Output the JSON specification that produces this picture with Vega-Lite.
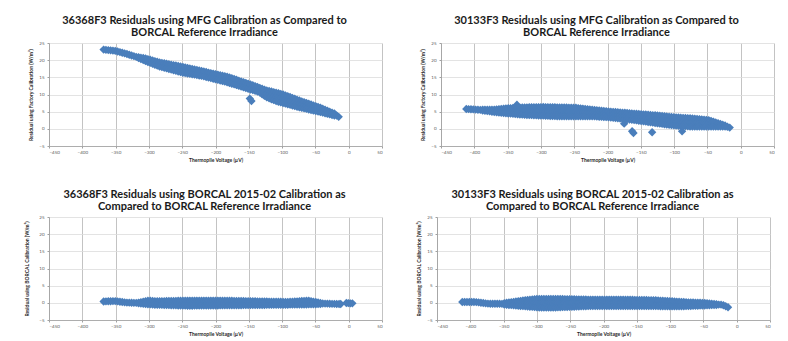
{
"$schema": "https://vega.github.io/schema/vega-lite/v6.json",
"padding": {"left": 24, "top": 15, "right": 0, "bottom": 0},
"background": "white",
"config": {
 "font": "Lato",
 "view": {"stroke": null},
 "title": {"font": "Lato", "fontSize": 11, "fontWeight": "bold", "color": "#1a1a1a", "lineHeight": 12, "offset": 2, "dx": -11, "anchor": "middle"},
 "axis": {"labelFont": "Lato", "labelFontSize": 4.5, "labelColor": "#595959", "titleFont": "Lato", "titleFontSize": 5, "titleFontWeight": "bold", "titleColor": "#262626", "domainColor": "#a0a0a0", "domainWidth": 0.8, "tickColor": "#a0a0a0", "tickSize": 2, "gridWidth": 0.8},
 "axisX": {"gridColor": "#b4b4b4", "labelPadding": 1, "titlePadding": 4},
 "axisY": {"gridColor": "#dcdcdc", "labelPadding": 3, "titlePadding": 5},
 "point": {"shape": "diamond", "filled": true, "size": 70, "color": "#4a7ebb", "opacity": 1}
},
"datasets": {
 "p1": [
{"v":-368,"r":23.08},{"v":-364.5,"r":23.0},{"v":-361,"r":22.93},{"v":-357.5,"r":22.86},{"v":-354,"r":22.78},{"v":-350.5,"r":22.71},{"v":-347,"r":22.54},{"v":-343.5,"r":22.35},{"v":-340,"r":22.17},{"v":-336.5,"r":21.98},{"v":-333,"r":21.79},{"v":-329.5,"r":21.58},{"v":-326,"r":21.37},{"v":-322.5,"r":21.16},{"v":-319,"r":20.95},
{"v":-315.5,"r":20.87},{"v":-315.5,"r":20.61},{"v":-312,"r":20.74},{"v":-312,"r":20.32},{"v":-308.5,"r":20.62},{"v":-308.5,"r":20.02},{"v":-305,"r":20.49},{"v":-305,"r":19.73},{"v":-301.5,"r":20.31},{"v":-301.5,"r":19.46},{"v":-298,"r":20.12},{"v":-298,"r":19.2},{"v":-294.5,"r":19.93},{"v":-294.5,"r":18.94},{"v":-291,"r":19.74},{"v":-291,"r":18.68},{"v":-287.5,"r":19.54},{"v":-287.5,"r":18.41},{"v":-284,"r":19.35},{"v":-284,"r":18.15},{"v":-280.5,"r":19.22},{"v":-280.5,"r":17.97},{"v":-277,"r":19.09},{"v":-277,"r":17.79},{"v":-273.5,"r":18.96},{"v":-273.5,"r":17.61},{"v":-270,"r":18.83},{"v":-270,"r":17.43},{"v":-266.5,"r":18.7},{"v":-266.5,"r":17.25},{"v":-263,"r":18.57},{"v":-263,"r":17.07},{"v":-259.5,"r":18.44},{"v":-259.5,"r":16.89},{"v":-256,"r":18.31},{"v":-256,"r":16.71},{"v":-252.5,"r":18.18},{"v":-252.5,"r":16.53},{"v":-249,"r":18.05},{"v":-249,"r":16.35},{"v":-245.5,"r":17.9},{"v":-245.5,"r":16.23},{"v":-242,"r":17.75},{"v":-242,"r":16.12},{"v":-238.5,"r":17.6},{"v":-238.5,"r":16.0},{"v":-235,"r":17.44},{"v":-235,"r":15.88},{"v":-231.5,"r":17.29},{"v":-231.5,"r":15.77},{"v":-228,"r":17.14},{"v":-228,"r":15.65},{"v":-224.5,"r":16.99},{"v":-224.5,"r":15.53},{"v":-221,"r":16.84},{"v":-221,"r":15.42},{"v":-217.5,"r":16.69},{"v":-217.5,"r":15.28},{"v":-214,"r":16.54},{"v":-214,"r":15.11},{"v":-210.5,"r":16.39},{"v":-210.5,"r":14.94},{"v":-207,"r":16.24},{"v":-207,"r":14.77},{"v":-203.5,"r":16.09},{"v":-203.5,"r":14.6},{"v":-200,"r":15.94},{"v":-200,"r":14.43},{"v":-196.5,"r":15.79},{"v":-196.5,"r":14.26},{"v":-193,"r":15.64},{"v":-193,"r":14.09},{"v":-189.5,"r":15.49},{"v":-189.5,"r":13.92},{"v":-186,"r":15.34},{"v":-186,"r":13.75},{"v":-182.5,"r":15.16},{"v":-182.5,"r":13.56},{"v":-179,"r":14.94},{"v":-179,"r":13.35},{"v":-175.5,"r":14.72},{"v":-175.5,"r":13.14},{"v":-172,"r":14.5},{"v":-172,"r":12.93},{"v":-168.5,"r":14.28},{"v":-168.5,"r":12.72},{"v":-165,"r":14.06},{"v":-165,"r":12.51},{"v":-161.5,"r":13.84},{"v":-161.5,"r":12.3},{"v":-158,"r":13.62},{"v":-158,"r":12.09},{"v":-154.5,"r":13.4},{"v":-154.5,"r":11.88},{"v":-151,"r":13.18},{"v":-151,"r":11.67},{"v":-148.5,"r":8.8},{"v":-147.5,"r":12.94},{"v":-147.5,"r":11.46},{"v":-146,"r":8.1},{"v":-144,"r":12.69},{"v":-144,"r":11.26},{"v":-140.5,"r":12.44},{"v":-140.5,"r":11.06},{"v":-137,"r":12.19},{"v":-137,"r":10.86},{"v":-133.5,"r":11.93},{"v":-133.5,"r":10.55},{"v":-130,"r":11.68},{"v":-130,"r":10.07},
{"v":-126.5,"r":11.43},{"v":-126.5,"r":10.5},{"v":-126.5,"r":9.59},{"v":-123,"r":11.2},{"v":-123,"r":10.2},{"v":-123,"r":9.17},{"v":-119.5,"r":11.03},{"v":-119.5,"r":9.95},{"v":-119.5,"r":8.9},{"v":-116,"r":10.86},{"v":-116,"r":9.75},{"v":-116,"r":8.62},{"v":-112.5,"r":10.7},{"v":-112.5,"r":9.5},{"v":-112.5,"r":8.35},{"v":-109,"r":10.5},{"v":-109,"r":9.3},{"v":-109,"r":8.1},{"v":-105.5,"r":10.36},{"v":-105.5,"r":9.1},{"v":-105.5,"r":7.9},{"v":-102,"r":10.2},{"v":-102,"r":8.95},{"v":-102,"r":7.7},{"v":-98.5,"r":10.0},{"v":-98.5,"r":8.75},{"v":-98.5,"r":7.52},{"v":-95,"r":9.76},{"v":-95,"r":8.55},{"v":-95,"r":7.34},{"v":-91.5,"r":9.5},{"v":-91.5,"r":8.35},{"v":-91.5,"r":7.16},{"v":-88,"r":9.26},{"v":-88,"r":8.1},{"v":-88,"r":6.98},{"v":-84.5,"r":9.0},{"v":-84.5,"r":7.9},{"v":-84.5,"r":6.8},{"v":-81,"r":8.75},{"v":-81,"r":7.7},{"v":-81,"r":6.61},{"v":-77.5,"r":8.5},{"v":-77.5,"r":7.45},{"v":-77.5,"r":6.43},{"v":-74,"r":8.25},{"v":-74,"r":7.25},{"v":-74,"r":6.25},{"v":-70.5,"r":8.0},{"v":-70.5,"r":7.05},{"v":-70.5,"r":6.1},{"v":-67,"r":7.78},{"v":-67,"r":6.85},{"v":-67,"r":5.95},{"v":-63.5,"r":7.55},{"v":-63.5,"r":6.65},{"v":-63.5,"r":5.8},
{"v":-60,"r":7.32},{"v":-60,"r":5.64},{"v":-56.5,"r":7.08},{"v":-56.5,"r":5.49},{"v":-53,"r":6.85},{"v":-53,"r":5.34},{"v":-49.5,"r":6.62},{"v":-49.5,"r":5.19},{"v":-46,"r":6.38},{"v":-46,"r":5.04},{"v":-42.5,"r":6.13},{"v":-42.5,"r":4.88},{"v":-39,"r":5.85},{"v":-39,"r":4.71},{"v":-35.5,"r":5.57},{"v":-35.5,"r":4.54},{"v":-32,"r":5.29},{"v":-32,"r":4.37},{"v":-28.5,"r":5.01},{"v":-28.5,"r":4.21},{"v":-25,"r":4.73},{"v":-25,"r":4.04},{"v":-21.5,"r":4.45},{"v":-21.5,"r":3.87},{"v":-18,"r":3.88},{"v":-15,"r":3.5}
 ],
 "p2": [
{"v":-412,"r":5.78},{"v":-408.5,"r":5.73},{"v":-405,"r":5.7},{"v":-401.5,"r":5.66},{"v":-398,"r":5.6},{"v":-394.5,"r":5.57},{"v":-391,"r":5.52},
{"v":-387.5,"r":5.6},{"v":-387.5,"r":5.35},{"v":-384,"r":5.55},{"v":-384,"r":5.28},{"v":-380.5,"r":5.55},{"v":-380.5,"r":5.18},{"v":-377,"r":5.55},{"v":-377,"r":5.07},{"v":-373.5,"r":5.55},{"v":-373.5,"r":4.97},{"v":-370,"r":5.61},{"v":-370,"r":4.89},{"v":-366.5,"r":5.68},{"v":-366.5,"r":4.82},{"v":-363,"r":5.75},{"v":-363,"r":4.75},{"v":-359.5,"r":5.82},{"v":-359.5,"r":4.68},{"v":-356,"r":5.89},{"v":-356,"r":4.61},{"v":-352.5,"r":5.96},{"v":-352.5,"r":4.54},{"v":-349,"r":5.99},{"v":-349,"r":4.48},{"v":-345.5,"r":6.02},{"v":-345.5,"r":4.42},{"v":-342,"r":6.06},{"v":-342,"r":4.37},
{"v":-338.5,"r":6.09},{"v":-338.5,"r":5.2},{"v":-338.5,"r":4.31},{"v":-336,"r":7.0},{"v":-335,"r":6.13},{"v":-335,"r":5.19},{"v":-335,"r":4.25},{"v":-331.5,"r":6.16},{"v":-331.5,"r":5.18},{"v":-331.5,"r":4.19},{"v":-328,"r":6.2},{"v":-328,"r":5.16},{"v":-328,"r":4.13},{"v":-324.5,"r":6.23},{"v":-324.5,"r":5.15},{"v":-324.5,"r":4.08},{"v":-321,"r":6.26},{"v":-321,"r":5.14},{"v":-321,"r":4.03},{"v":-317.5,"r":6.27},{"v":-317.5,"r":5.13},{"v":-317.5,"r":4.0},{"v":-314,"r":6.29},{"v":-314,"r":5.13},{"v":-314,"r":3.98},{"v":-310.5,"r":6.3},{"v":-310.5,"r":5.12},{"v":-310.5,"r":3.95},{"v":-307,"r":6.31},{"v":-307,"r":5.11},{"v":-307,"r":3.92},{"v":-303.5,"r":6.33},{"v":-303.5,"r":5.11},{"v":-303.5,"r":3.89},{"v":-300,"r":6.34},{"v":-300,"r":5.1},{"v":-300,"r":3.87},{"v":-296.5,"r":6.35},{"v":-296.5,"r":5.1},{"v":-296.5,"r":3.84},{"v":-293,"r":6.33},{"v":-293,"r":5.07},{"v":-293,"r":3.81},{"v":-289.5,"r":6.32},{"v":-289.5,"r":5.05},{"v":-289.5,"r":3.78},{"v":-286,"r":6.3},{"v":-286,"r":5.02},{"v":-286,"r":3.75},{"v":-282.5,"r":6.29},{"v":-282.5,"r":5.01},{"v":-282.5,"r":3.73},{"v":-279,"r":6.27},{"v":-279,"r":4.98},{"v":-279,"r":3.7},{"v":-275.5,"r":6.26},{"v":-275.5,"r":4.96},{"v":-275.5,"r":3.67},{"v":-272,"r":6.25},{"v":-272,"r":4.95},{"v":-272,"r":3.65},{"v":-268.5,"r":6.23},{"v":-268.5,"r":4.94},{"v":-268.5,"r":3.65},{"v":-265,"r":6.22},{"v":-265,"r":4.93},{"v":-265,"r":3.65},{"v":-261.5,"r":6.2},{"v":-261.5,"r":4.92},{"v":-261.5,"r":3.65},{"v":-258,"r":6.19},{"v":-258,"r":4.92},{"v":-258,"r":3.65},{"v":-254.5,"r":6.18},{"v":-254.5,"r":4.91},{"v":-254.5,"r":3.65},{"v":-251,"r":6.16},{"v":-251,"r":4.9},{"v":-251,"r":3.65},{"v":-247.5,"r":6.14},{"v":-247.5,"r":4.9},{"v":-247.5,"r":3.65},{"v":-244,"r":6.05},{"v":-244,"r":4.85},{"v":-244,"r":3.65},{"v":-240.5,"r":5.97},{"v":-240.5,"r":4.81},{"v":-240.5,"r":3.65},{"v":-237,"r":5.89},{"v":-237,"r":4.77},{"v":-237,"r":3.65},{"v":-233.5,"r":5.8},{"v":-233.5,"r":4.72},{"v":-233.5,"r":3.65},{"v":-230,"r":5.72},{"v":-230,"r":4.68},{"v":-230,"r":3.65},{"v":-226.5,"r":5.63},{"v":-226.5,"r":4.64},{"v":-226.5,"r":3.65},{"v":-223,"r":5.55},{"v":-223,"r":4.6},{"v":-223,"r":3.65},{"v":-219.5,"r":5.48},{"v":-219.5,"r":4.54},{"v":-219.5,"r":3.61},{"v":-216,"r":5.41},{"v":-216,"r":4.49},{"v":-216,"r":3.57},{"v":-212.5,"r":5.34},{"v":-212.5,"r":4.43},{"v":-212.5,"r":3.52},{"v":-209,"r":5.27},{"v":-209,"r":4.37},{"v":-209,"r":3.48},{"v":-205.5,"r":5.2},{"v":-205.5,"r":4.32},{"v":-205.5,"r":3.44},{"v":-202,"r":5.13},{"v":-202,"r":4.26},{"v":-202,"r":3.4},{"v":-198.5,"r":5.06},{"v":-198.5,"r":3.36},
{"v":-195,"r":5.0},{"v":-195,"r":4.14},{"v":-195,"r":3.29},{"v":-191.5,"r":4.95},{"v":-191.5,"r":4.08},{"v":-191.5,"r":3.22},{"v":-188,"r":4.89},{"v":-188,"r":4.02},{"v":-188,"r":3.15},{"v":-184.5,"r":4.83},{"v":-184.5,"r":3.95},{"v":-184.5,"r":3.08},{"v":-181,"r":4.78},{"v":-181,"r":3.9},{"v":-181,"r":3.01},{"v":-177.5,"r":4.72},{"v":-177.5,"r":3.83},{"v":-177.5,"r":2.94},{"v":-175,"r":1.5},{"v":-174,"r":4.67},{"v":-174,"r":3.77},{"v":-174,"r":2.87},{"v":-170.5,"r":4.61},{"v":-170.5,"r":3.7},{"v":-170.5,"r":2.79},{"v":-167,"r":4.55},{"v":-167,"r":3.63},{"v":-167,"r":2.71},{"v":-163.5,"r":4.5},{"v":-163.5,"r":3.56},{"v":-163.5,"r":2.62},{"v":-163,"r":-0.7},{"v":-161,"r":-1.2},{"v":-160,"r":4.44},{"v":-160,"r":3.49},{"v":-160,"r":2.54},{"v":-156.5,"r":4.39},{"v":-156.5,"r":3.42},{"v":-156.5,"r":2.45},{"v":-153,"r":4.33},{"v":-153,"r":3.35},{"v":-153,"r":2.37},{"v":-149.5,"r":4.27},{"v":-149.5,"r":3.28},{"v":-149.5,"r":2.29},{"v":-146,"r":4.22},{"v":-146,"r":3.2},{"v":-146,"r":2.19},{"v":-142.5,"r":4.16},{"v":-142.5,"r":3.12},{"v":-142.5,"r":2.09},{"v":-139,"r":4.11},{"v":-139,"r":3.05},{"v":-139,"r":2.0},{"v":-135.5,"r":4.05},{"v":-135.5,"r":2.97},{"v":-135.5,"r":1.9},{"v":-133,"r":-1.0},{"v":-132,"r":3.99},{"v":-132,"r":2.9},{"v":-132,"r":1.8},{"v":-128.5,"r":3.94},{"v":-128.5,"r":2.82},{"v":-128.5,"r":1.7},{"v":-125,"r":3.88},{"v":-125,"r":2.74},{"v":-125,"r":1.61},{"v":-121.5,"r":3.82},{"v":-121.5,"r":2.66},{"v":-121.5,"r":1.51},{"v":-118,"r":3.75},{"v":-118,"r":2.59},{"v":-118,"r":1.43},{"v":-114.5,"r":3.68},{"v":-114.5,"r":2.51},{"v":-114.5,"r":1.35},{"v":-111,"r":3.61},{"v":-111,"r":2.43},{"v":-111,"r":1.26},{"v":-107.5,"r":3.54},{"v":-107.5,"r":2.36},{"v":-107.5,"r":1.18},{"v":-104,"r":3.47},{"v":-104,"r":2.28},{"v":-104,"r":1.09},{"v":-100.5,"r":3.4},{"v":-100.5,"r":2.2},{"v":-100.5,"r":1.01},{"v":-97,"r":3.34},{"v":-97,"r":2.14},{"v":-97,"r":0.94},{"v":-93.5,"r":3.3},{"v":-93.5,"r":2.1},{"v":-93.5,"r":0.9},{"v":-90,"r":3.25},{"v":-90,"r":2.05},{"v":-90,"r":0.85},{"v":-88,"r":-0.7},{"v":-86.5,"r":3.21},{"v":-86.5,"r":2.01},{"v":-86.5,"r":0.81},{"v":-83,"r":3.17},{"v":-83,"r":1.97},{"v":-83,"r":0.77},{"v":-79.5,"r":3.13},{"v":-79.5,"r":1.93},{"v":-79.5,"r":0.73},{"v":-76,"r":3.09},{"v":-76,"r":1.89},{"v":-76,"r":0.69},{"v":-72.5,"r":3.04},{"v":-72.5,"r":1.85},{"v":-72.5,"r":0.65},{"v":-69,"r":2.97},{"v":-69,"r":1.81},{"v":-69,"r":0.65},{"v":-65.5,"r":2.9},{"v":-65.5,"r":1.78},{"v":-65.5,"r":0.65},{"v":-62,"r":2.83},{"v":-62,"r":1.74},{"v":-62,"r":0.65},{"v":-58.5,"r":2.76},{"v":-58.5,"r":1.7},{"v":-58.5,"r":0.65},{"v":-55,"r":2.69},{"v":-55,"r":1.67},{"v":-55,"r":0.65},{"v":-51.5,"r":2.62},{"v":-51.5,"r":1.63},{"v":-51.5,"r":0.65},{"v":-48,"r":2.55},{"v":-48,"r":1.6},{"v":-48,"r":0.65},{"v":-44.5,"r":2.33},{"v":-44.5,"r":1.49},{"v":-44.5,"r":0.65},
{"v":-41,"r":2.1},{"v":-41,"r":0.65},{"v":-37.5,"r":1.88},{"v":-37.5,"r":0.65},{"v":-34,"r":1.65},{"v":-34,"r":0.65},{"v":-30.5,"r":1.43},{"v":-30.5,"r":0.65},{"v":-27,"r":1.21},{"v":-27,"r":0.65},{"v":-23.5,"r":0.98},{"v":-23.5,"r":0.65},{"v":-20,"r":0.6},{"v":-16.5,"r":0.37}
 ],
 "p3": [
{"v":-368,"r":0.4},{"v":-364.5,"r":0.43},{"v":-361,"r":0.45},{"v":-357.5,"r":0.47},{"v":-354,"r":0.49},{"v":-350.5,"r":0.5},{"v":-347,"r":0.42},{"v":-343.5,"r":0.33},{"v":-340,"r":0.24},{"v":-336.5,"r":0.14},{"v":-333,"r":0.08},{"v":-329.5,"r":0.05},{"v":-326,"r":0.02},{"v":-322.5,"r":0.0},{"v":-319,"r":-0.03},
{"v":-315.5,"r":0.07},{"v":-315.5,"r":-0.15},{"v":-312,"r":0.21},{"v":-312,"r":-0.22},{"v":-308.5,"r":0.35},{"v":-308.5,"r":-0.29},{"v":-305,"r":0.49},{"v":-305,"r":-0.36},{"v":-301.5,"r":0.63},{"v":-301.5,"r":-0.43},{"v":-298,"r":0.59},{"v":-298,"r":-0.46},{"v":-294.5,"r":0.52},{"v":-294.5,"r":-0.5},{"v":-291,"r":0.45},{"v":-291,"r":-0.55},{"v":-287.5,"r":0.46},{"v":-287.5,"r":-0.57},{"v":-284,"r":0.48},{"v":-284,"r":-0.59},{"v":-280.5,"r":0.49},{"v":-280.5,"r":-0.61},{"v":-277,"r":0.51},{"v":-277,"r":-0.63},{"v":-273.5,"r":0.52},{"v":-273.5,"r":-0.66},{"v":-270,"r":0.53},{"v":-270,"r":-0.68},{"v":-266.5,"r":0.55},{"v":-266.5,"r":-0.7},{"v":-263,"r":0.56},{"v":-263,"r":-0.72},{"v":-259.5,"r":0.58},{"v":-259.5,"r":-0.74},{"v":-256,"r":0.59},{"v":-256,"r":-0.76},{"v":-252.5,"r":0.6},{"v":-252.5,"r":-0.78},{"v":-249,"r":0.62},{"v":-249,"r":-0.8},{"v":-245.5,"r":0.63},{"v":-245.5,"r":-0.82},{"v":-242,"r":0.65},{"v":-242,"r":-0.85},{"v":-238.5,"r":0.65},{"v":-238.5,"r":-0.84},{"v":-235,"r":0.65},{"v":-235,"r":-0.84},{"v":-231.5,"r":0.65},{"v":-231.5,"r":-0.83},{"v":-228,"r":0.65},{"v":-228,"r":-0.82},{"v":-224.5,"r":0.65},{"v":-224.5,"r":-0.82},{"v":-221,"r":0.65},{"v":-221,"r":-0.81},{"v":-217.5,"r":0.65},{"v":-217.5,"r":-0.8},{"v":-214,"r":0.65},{"v":-214,"r":-0.8},{"v":-210.5,"r":0.65},{"v":-210.5,"r":-0.79},{"v":-207,"r":0.65},{"v":-207,"r":-0.78},{"v":-203.5,"r":0.65},{"v":-203.5,"r":-0.77},{"v":-200,"r":0.65},{"v":-200,"r":-0.77},{"v":-196.5,"r":0.65},{"v":-196.5,"r":-0.76},{"v":-193,"r":0.65},{"v":-193,"r":-0.75},{"v":-189.5,"r":0.64},{"v":-189.5,"r":-0.75},{"v":-186,"r":0.63},{"v":-186,"r":-0.74},{"v":-182.5,"r":0.62},{"v":-182.5,"r":-0.73},{"v":-179,"r":0.6},{"v":-179,"r":-0.73},{"v":-175.5,"r":0.59},{"v":-175.5,"r":-0.72},{"v":-172,"r":0.57},{"v":-172,"r":-0.71},{"v":-168.5,"r":0.56},{"v":-168.5,"r":-0.71},{"v":-165,"r":0.55},{"v":-165,"r":-0.7},{"v":-161.5,"r":0.53},{"v":-161.5,"r":-0.69},{"v":-158,"r":0.52},{"v":-158,"r":-0.68},{"v":-154.5,"r":0.5},{"v":-154.5,"r":-0.68},{"v":-151,"r":0.49},{"v":-151,"r":-0.67},{"v":-147.5,"r":0.48},{"v":-147.5,"r":-0.66},{"v":-144,"r":0.46},{"v":-144,"r":-0.66},{"v":-140.5,"r":0.45},{"v":-140.5,"r":-0.65},{"v":-137,"r":0.44},{"v":-137,"r":-0.64},{"v":-133.5,"r":0.42},{"v":-133.5,"r":-0.64},{"v":-130,"r":0.41},{"v":-130,"r":-0.63},{"v":-126.5,"r":0.39},{"v":-126.5,"r":-0.62},{"v":-123,"r":0.38},{"v":-123,"r":-0.61},{"v":-119.5,"r":0.37},{"v":-119.5,"r":-0.61},{"v":-116,"r":0.35},{"v":-116,"r":-0.6},{"v":-112.5,"r":0.34},{"v":-112.5,"r":-0.59},{"v":-109,"r":0.32},{"v":-109,"r":-0.59},{"v":-105.5,"r":0.31},{"v":-105.5,"r":-0.58},{"v":-102,"r":0.3},{"v":-102,"r":-0.57},{"v":-98.5,"r":0.28},{"v":-98.5,"r":-0.57},{"v":-95,"r":0.27},{"v":-95,"r":-0.56},{"v":-91.5,"r":0.25},{"v":-91.5,"r":-0.55},{"v":-88,"r":0.3},{"v":-88,"r":-0.54},{"v":-84.5,"r":0.35},{"v":-84.5,"r":-0.53},{"v":-81,"r":0.38},{"v":-81,"r":-0.52},{"v":-77.5,"r":0.43},{"v":-77.5,"r":-0.51},{"v":-74,"r":0.48},{"v":-74,"r":-0.5},{"v":-70.5,"r":0.52},{"v":-70.5,"r":-0.49},{"v":-67,"r":0.57},{"v":-67,"r":-0.48},{"v":-63.5,"r":0.62},{"v":-63.5,"r":-0.47},{"v":-60,"r":0.63},{"v":-60,"r":-0.45},{"v":-56.5,"r":0.49},{"v":-56.5,"r":-0.43},{"v":-53,"r":0.37},{"v":-53,"r":-0.41},{"v":-49.5,"r":0.23},{"v":-49.5,"r":-0.4},{"v":-46,"r":0.1},{"v":-46,"r":-0.38},{"v":-42.5,"r":-0.02},{"v":-42.5,"r":-0.36},
{"v":-39,"r":-0.21},{"v":-35.5,"r":-0.23},{"v":-32,"r":-0.25},{"v":-28.5,"r":-0.27},{"v":-25,"r":-0.29},{"v":-21.5,"r":-0.31},{"v":-18,"r":-0.33},{"v":-14.5,"r":-0.35},{"v":-12,"r":-0.35},{"v":-3.5,"r":-0.05},{"v":-0.5,"r":-0.1},{"v":2.5,"r":-0.15},{"v":5.5,"r":-0.15}
 ],
 "p4": [
{"v":-412,"r":0.25},{"v":-408.5,"r":0.25},{"v":-405,"r":0.25},{"v":-401.5,"r":0.25},{"v":-398,"r":0.25},{"v":-394.5,"r":0.25},{"v":-391,"r":0.22},{"v":-387.5,"r":0.13},{"v":-384,"r":0.04},{"v":-380.5,"r":-0.05},{"v":-377,"r":-0.14},{"v":-373.5,"r":-0.22},{"v":-370,"r":-0.26},{"v":-366.5,"r":-0.26},{"v":-363,"r":-0.27},{"v":-359.5,"r":-0.27},{"v":-356,"r":-0.28},{"v":-352.5,"r":-0.29},
{"v":-349,"r":-0.07},{"v":-349,"r":-0.51},{"v":-345.5,"r":0.01},{"v":-345.5,"r":-0.57},{"v":-342,"r":0.09},{"v":-342,"r":-0.63},{"v":-338.5,"r":0.19},{"v":-338.5,"r":-0.68},{"v":-335,"r":0.29},{"v":-335,"r":-0.74},{"v":-331.5,"r":0.39},{"v":-331.5,"r":-0.79},{"v":-328,"r":0.48},{"v":-328,"r":-0.85},{"v":-324.5,"r":0.58},{"v":-324.5,"r":-0.91},{"v":-321,"r":0.68},{"v":-321,"r":-0.97},
{"v":-317.5,"r":0.75},{"v":-317.5,"r":-0.14},{"v":-317.5,"r":-1.02},{"v":-314,"r":0.82},{"v":-314,"r":-0.13},{"v":-314,"r":-1.08},{"v":-310.5,"r":0.89},{"v":-310.5,"r":-0.12},{"v":-310.5,"r":-1.13},{"v":-307,"r":0.96},{"v":-307,"r":-0.12},{"v":-307,"r":-1.19},{"v":-303.5,"r":1.03},{"v":-303.5,"r":-0.11},{"v":-303.5,"r":-1.25},{"v":-300,"r":1.1},{"v":-300,"r":-0.1},{"v":-300,"r":-1.3},{"v":-296.5,"r":1.15},{"v":-296.5,"r":-0.1},{"v":-296.5,"r":-1.35},{"v":-293,"r":1.15},{"v":-293,"r":-0.1},{"v":-293,"r":-1.35},{"v":-289.5,"r":1.15},{"v":-289.5,"r":-0.1},{"v":-289.5,"r":-1.35},{"v":-286,"r":1.15},{"v":-286,"r":-0.1},{"v":-286,"r":-1.35},{"v":-282.5,"r":1.15},{"v":-282.5,"r":-0.1},{"v":-282.5,"r":-1.35},{"v":-279,"r":1.15},{"v":-279,"r":-0.1},{"v":-279,"r":-1.35},{"v":-275.5,"r":1.15},{"v":-275.5,"r":-0.1},{"v":-275.5,"r":-1.35},{"v":-272,"r":1.15},{"v":-272,"r":-0.1},{"v":-272,"r":-1.35},{"v":-268.5,"r":1.14},{"v":-268.5,"r":-0.09},{"v":-268.5,"r":-1.32},{"v":-265,"r":1.12},{"v":-265,"r":-0.09},{"v":-265,"r":-1.29},{"v":-261.5,"r":1.11},{"v":-261.5,"r":-0.08},{"v":-261.5,"r":-1.26},{"v":-258,"r":1.09},{"v":-258,"r":-0.07},{"v":-258,"r":-1.23},{"v":-254.5,"r":1.08},{"v":-254.5,"r":-0.07},{"v":-254.5,"r":-1.21},{"v":-251,"r":1.07},{"v":-251,"r":-0.06},{"v":-251,"r":-1.18},{"v":-247.5,"r":1.05},{"v":-247.5,"r":-0.05},{"v":-247.5,"r":-1.15},{"v":-244,"r":1.04},{"v":-244,"r":-0.05},{"v":-244,"r":-1.13},{"v":-240.5,"r":1.02},{"v":-240.5,"r":-0.04},{"v":-240.5,"r":-1.1},{"v":-237,"r":1.01},{"v":-237,"r":-0.03},{"v":-237,"r":-1.07},{"v":-233.5,"r":1.0},{"v":-233.5,"r":-0.02},{"v":-233.5,"r":-1.04},{"v":-230,"r":0.98},{"v":-230,"r":-0.01},{"v":-230,"r":-1.01},{"v":-226.5,"r":0.97},{"v":-226.5,"r":-0.01},{"v":-226.5,"r":-0.99},{"v":-223,"r":0.95},{"v":-223,"r":0.0},{"v":-223,"r":-0.96},{"v":-219.5,"r":0.95},{"v":-219.5,"r":0.0},{"v":-219.5,"r":-0.95},{"v":-216,"r":0.95},{"v":-216,"r":0.0},{"v":-216,"r":-0.95},{"v":-212.5,"r":0.95},{"v":-212.5,"r":0.0},{"v":-212.5,"r":-0.95},{"v":-209,"r":0.95},{"v":-209,"r":0.0},{"v":-209,"r":-0.95},{"v":-205.5,"r":0.95},{"v":-205.5,"r":0.0},{"v":-205.5,"r":-0.95},{"v":-202,"r":0.95},{"v":-202,"r":0.0},{"v":-202,"r":-0.95},{"v":-198.5,"r":0.95},{"v":-198.5,"r":0.0},{"v":-198.5,"r":-0.95},{"v":-195,"r":0.95},{"v":-195,"r":0.0},{"v":-195,"r":-0.95},{"v":-191.5,"r":0.95},{"v":-191.5,"r":0.0},{"v":-191.5,"r":-0.95},{"v":-188,"r":0.95},{"v":-188,"r":0.0},{"v":-188,"r":-0.95},{"v":-184.5,"r":0.95},{"v":-184.5,"r":0.0},{"v":-184.5,"r":-0.95},{"v":-181,"r":0.95},{"v":-181,"r":0.0},{"v":-181,"r":-0.95},{"v":-177.5,"r":0.95},{"v":-177.5,"r":0.0},{"v":-177.5,"r":-0.95},{"v":-174,"r":0.95},{"v":-174,"r":0.0},{"v":-174,"r":-0.95},{"v":-170.5,"r":0.94},{"v":-170.5,"r":0.0},{"v":-170.5,"r":-0.95},{"v":-167,"r":0.93},{"v":-167,"r":0.0},{"v":-167,"r":-0.95},{"v":-163.5,"r":0.92},{"v":-163.5,"r":0.0},{"v":-163.5,"r":-0.95},{"v":-160,"r":0.9},{"v":-160,"r":0.0},{"v":-160,"r":-0.95},{"v":-156.5,"r":0.89},{"v":-156.5,"r":-0.03},{"v":-156.5,"r":-0.95},{"v":-153,"r":0.88},{"v":-153,"r":-0.03},{"v":-153,"r":-0.95},{"v":-149.5,"r":0.86},{"v":-149.5,"r":-0.04},{"v":-149.5,"r":-0.95},{"v":-146,"r":0.85},{"v":-146,"r":-0.05},{"v":-146,"r":-0.95},{"v":-142.5,"r":0.83},{"v":-142.5,"r":-0.06},{"v":-142.5,"r":-0.95},{"v":-139,"r":0.82},{"v":-139,"r":-0.07},{"v":-139,"r":-0.95},{"v":-135.5,"r":0.81},{"v":-135.5,"r":-0.07},{"v":-135.5,"r":-0.95},{"v":-132,"r":0.79},{"v":-132,"r":-0.08},{"v":-132,"r":-0.95},{"v":-128.5,"r":0.78},{"v":-128.5,"r":-0.08},{"v":-128.5,"r":-0.95},{"v":-125,"r":0.76},{"v":-125,"r":-0.09},{"v":-125,"r":-0.95},
{"v":-121.5,"r":0.74},{"v":-121.5,"r":-0.95},{"v":-118,"r":0.7},{"v":-118,"r":-0.97},{"v":-114.5,"r":0.66},{"v":-114.5,"r":-0.98},{"v":-111,"r":0.62},{"v":-111,"r":-0.99},{"v":-107.5,"r":0.58},{"v":-107.5,"r":-1.01},{"v":-104,"r":0.53},{"v":-104,"r":-1.02},{"v":-100.5,"r":0.49},{"v":-100.5,"r":-1.04},{"v":-97,"r":0.45},{"v":-97,"r":-1.05},{"v":-93.5,"r":0.41},{"v":-93.5,"r":-1.04},{"v":-90,"r":0.37},{"v":-90,"r":-1.02},{"v":-86.5,"r":0.32},{"v":-86.5,"r":-1.01},{"v":-83,"r":0.28},{"v":-83,"r":-0.99},{"v":-79.5,"r":0.24},{"v":-79.5,"r":-0.98},{"v":-76,"r":0.2},{"v":-76,"r":-0.97},{"v":-72.5,"r":0.15},{"v":-72.5,"r":-0.95},{"v":-69,"r":0.13},{"v":-69,"r":-0.93},{"v":-65.5,"r":0.1},{"v":-65.5,"r":-0.9},{"v":-62,"r":0.07},{"v":-62,"r":-0.87},{"v":-58.5,"r":0.04},{"v":-58.5,"r":-0.84},{"v":-55,"r":0.01},{"v":-55,"r":-0.81},{"v":-51.5,"r":-0.01},{"v":-51.5,"r":-0.79},{"v":-48,"r":-0.04},{"v":-48,"r":-0.76},{"v":-44.5,"r":-0.1},{"v":-44.5,"r":-0.73},{"v":-41,"r":-0.17},{"v":-41,"r":-0.7},{"v":-37.5,"r":-0.24},{"v":-37.5,"r":-0.67},{"v":-34,"r":-0.31},{"v":-34,"r":-0.65},{"v":-30.5,"r":-0.38},{"v":-30.5,"r":-0.62},{"v":-27,"r":-0.52},{"v":-23.5,"r":-0.54},{"v":-20,"r":-0.72},{"v":-16.5,"r":-1.0},{"v":-13,"r":-1.3}
 ]
},
"vconcat": [
 {"hconcat": [
  {"width": 333, "height": 103, "data": {"name": "p1"},
   "title": {"text": ["36368F3 Residuals using MFG Calibration as Compared to", "BORCAL Reference Irradiance"]},
   "mark": {"type": "point"},
   "encoding": {
    "x": {"field": "v", "type": "quantitative", "scale": {"domain": [-450, 50], "nice": false, "zero": false}, "axis": {"values": [-450,-400,-350,-300,-250,-200,-150,-100,-50,0,50], "title": "Thermopile Voltage (µV)"}},
    "y": {"field": "r", "type": "quantitative", "scale": {"domain": [-5, 25], "nice": false, "zero": false}, "axis": {"values": [-5,0,5,10,15,20,25], "title": "Residual using Factory Calibration (W/m²)"}}
   }},
  {"width": 333, "height": 103, "data": {"name": "p2"},
   "title": {"text": ["30133F3 Residuals using MFG Calibration as Compared to", "BORCAL Reference Irradiance"]},
   "mark": {"type": "point"},
   "encoding": {
    "x": {"field": "v", "type": "quantitative", "scale": {"domain": [-450, 50], "nice": false, "zero": false}, "axis": {"values": [-450,-400,-350,-300,-250,-200,-150,-100,-50,0,50], "title": "Thermopile Voltage (µV)"}},
    "y": {"field": "r", "type": "quantitative", "scale": {"domain": [-5, 25], "nice": false, "zero": false}, "axis": {"values": [-5,0,5,10,15,20,25], "title": "Residual using Factory Calibration (W/m²)"}}
   }}
 ], "spacing": 37},
 {"hconcat": [
  {"width": 333, "height": 103, "data": {"name": "p3"},
   "title": {"text": ["36368F3 Residuals using BORCAL 2015-02 Calibration as", "Compared to BORCAL Reference Irradiance"]},
   "mark": {"type": "point"},
   "encoding": {
    "x": {"field": "v", "type": "quantitative", "scale": {"domain": [-450, 50], "nice": false, "zero": false}, "axis": {"values": [-450,-400,-350,-300,-250,-200,-150,-100,-50,0,50], "title": "Thermopile Voltage (µV)"}},
    "y": {"field": "r", "type": "quantitative", "scale": {"domain": [-5, 25], "nice": false, "zero": false}, "axis": {"values": [-5,0,5,10,15,20,25], "title": "Residual using BORCAL Calibration (W/m²)", "titlePadding": 9}}
   }},
  {"width": 333, "height": 103, "data": {"name": "p4"},
   "title": {"text": ["30133F3 Residuals using BORCAL 2015-02 Calibration as", "Compared to BORCAL Reference Irradiance"]},
   "mark": {"type": "point"},
   "encoding": {
    "x": {"field": "v", "type": "quantitative", "scale": {"domain": [-450, 50], "nice": false, "zero": false}, "axis": {"values": [-450,-400,-350,-300,-250,-200,-150,-100,-50,0,50], "title": "Thermopile Voltage (µV)"}},
    "y": {"field": "r", "type": "quantitative", "scale": {"domain": [-5, 25], "nice": false, "zero": false}, "axis": {"values": [-5,0,5,10,15,20,25], "title": "Residual using BORCAL Calibration (W/m²)"}}
   }}
 ], "spacing": 33}
],
"spacing": 26
}
